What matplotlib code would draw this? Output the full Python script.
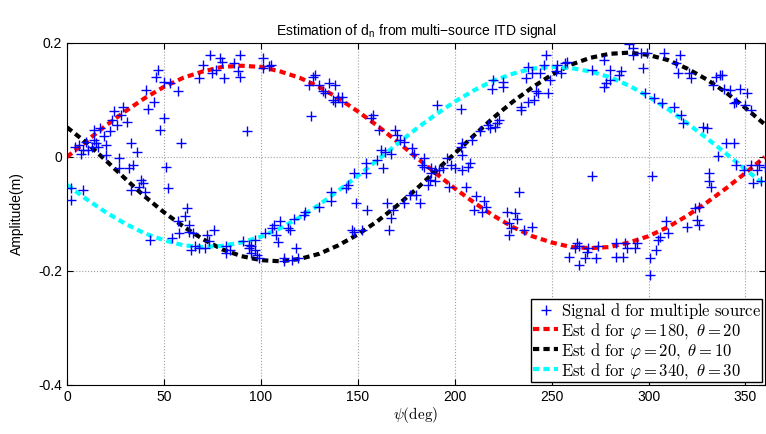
import matplotlib
matplotlib.use("Agg")
import matplotlib.pyplot as plt
import numpy as np

plt.rcParams['font.family'] = ['Liberation Sans', 'DejaVu Sans']
plt.rcParams['mathtext.fontset'] = 'cm'
plt.rcParams['axes.unicode_minus'] = False

psi_pts = [74, 79, 80, 89, 86, 70, 75, 81, 77, 68, 88, 89, 47, 46, 50, 53, 57, 41, 45, 42,
           29, 24, 28, 23, 26, 31, 50, 48, 93, 59, 14, 17, 22, 19, 14, 15, 20, 16, 10, 4,
           6, 7, 8, 11, 13, 20, 33, 36, 27, 27, 32, 34, 51, 52, 38, 39, 33, 37, 40, 2,
           8, 2, 62, 61, 57, 63, 63, 58, 65, 54, 43, 72, 76, 73, 66, 64, 68, 71, 82, 82,
           84, 91, 94, 94, 97,
           101, 101, 105, 104, 128, 127, 125, 130, 135, 138, 132, 133, 137, 140, 142, 142, 138, 126, 158, 157,
           161, 169, 170, 172, 174, 178, 179, 184, 184, 183, 188, 190, 194, 187, 190, 186, 197,
           191, 162, 164, 167, 160, 154, 154, 148, 163, 145, 144, 136, 136, 130, 123, 122, 117, 110, 107,
           106, 102, 97, 108, 109, 114, 115, 118, 95, 95, 98, 99, 112, 112, 116, 119,
           196, 192, 188, 177, 180, 182, 174, 165, 168, 167, 166, 155, 149, 147, 152, 148,
           290, 292, 292, 277, 271, 280, 286, 285, 280, 278, 277, 258, 257, 253, 252, 255, 247, 246, 238, 237,
           240, 244, 249, 242, 243, 248, 241, 238, 234, 234, 220, 219, 225, 225, 203, 223, 222, 221, 218, 217,
           213, 209, 204, 203, 204, 198, 200, 204, 207, 208,
           206, 211, 215, 216, 210, 214, 227, 231, 232, 228, 229, 228, 236, 240, 233, 271, 263, 264, 262, 259,
           264, 267, 268, 269, 274, 273, 283, 283, 287, 289, 288, 294, 293,
           296, 299, 308, 316, 314, 297, 315, 321, 322, 333, 335, 337, 338, 339, 342, 347, 351, 345, 344, 350, 353,
           298, 303, 307, 313, 317, 318, 328, 330, 340, 344, 336, 345, 349, 353, 357, 360, 354, 358, 356,
           331, 331, 332, 324, 326, 325, 326, 320, 309, 310, 306, 305, 304, 301, 301, 302]
d_pts = [0.179, 0.173, 0.167, 0.179, 0.164, 0.161, 0.147, 0.138, 0.153, 0.138, 0.150, 0.141, 0.153, 0.141, 0.132, 0.129, 0.115, 0.118, 0.097, 0.085,
         0.088, 0.080, 0.074, 0.065, 0.056, 0.062, 0.068, 0.047, 0.045, 0.024, 0.047, 0.050, 0.045, 0.036, 0.030, 0.024, 0.021, 0.018, 0.027, 0.018,
         0.021, 0.006, 0.012, 0.012, 0.018, 0.004, 0.024, 0.009, -0.002, -0.020, -0.020, -0.014, -0.017, -0.055, -0.040, -0.046, -0.058, -0.052, -0.061, -0.055,
         -0.058, -0.075, -0.090, -0.104, -0.113, -0.119, -0.131, -0.134, -0.134, -0.142, -0.145, -0.137, -0.128, -0.148, -0.157, -0.163, -0.160, -0.160, -0.157, -0.169,
         -0.163, -0.148, -0.154, -0.160, -0.163,
         0.173, 0.156, 0.161, 0.159, 0.144, 0.141, 0.126, 0.126, 0.129, 0.126, 0.115, 0.112, 0.100, 0.106, 0.106, 0.097, 0.097, 0.071, 0.074, 0.068,
         0.047, 0.047, 0.039, 0.030, 0.027, 0.015, 0.006, -0.002, -0.017, -0.014, -0.020, -0.023, -0.020, -0.040, -0.043, -0.049, -0.052,
         0.091, 0.012, 0.009, 0.006, -0.005, -0.011, -0.028, -0.028, -0.020, -0.049, -0.055, -0.061, -0.078, -0.087, -0.096, -0.102, -0.108, -0.113, -0.119,
         -0.125, -0.134, -0.145, -0.137, -0.149, -0.125, -0.128, -0.160, -0.157, -0.169, -0.172, -0.178, -0.178, -0.183, -0.181, -0.178,
         -0.002, -0.023, -0.028, -0.067, -0.067, -0.081, -0.081, -0.081, -0.093, -0.107, -0.128, -0.093, -0.081, -0.128, -0.128, -0.131,
         0.199, 0.191, 0.179, 0.170, 0.153, 0.153, 0.150, 0.144, 0.135, 0.129, 0.123, 0.167, 0.164, 0.161, 0.150, 0.147, 0.179, 0.161, 0.158, 0.138,
         0.147, 0.147, 0.135, 0.115, 0.112, 0.112, 0.100, 0.097, 0.088, 0.082, 0.135, 0.120, 0.132, 0.123, 0.085, 0.065, 0.059, 0.053, 0.050, 0.056,
         0.045, 0.030, 0.024, 0.018, 0.004, -0.014, -0.020, -0.023, -0.017, -0.011,
         -0.052, -0.069, -0.078, -0.087, -0.093, -0.096, -0.096, -0.099, -0.108, -0.116, -0.125, -0.137, -0.128, -0.122, -0.061, -0.034, -0.151, -0.157, -0.160, -0.175,
         -0.189, -0.178, -0.166, -0.160, -0.157, -0.178, -0.151, -0.175, -0.175, -0.160, -0.151, -0.151, -0.160,
         0.182, 0.182, 0.182, 0.179, 0.164, 0.156, 0.147, 0.147, 0.138, 0.126, 0.141, 0.144, 0.144, 0.120, 0.118, 0.120, 0.112, 0.097, 0.094, 0.091, 0.083,
         0.112, 0.103, 0.094, 0.088, 0.074, 0.059, 0.053, 0.050, 0.024, 0.024, 0.001, -0.014, -0.023, -0.014, -0.014, -0.017, -0.046, -0.043, -0.023,
         -0.028, -0.043, -0.052, -0.090, -0.087, -0.110, -0.119, -0.122, -0.113, -0.134, -0.140, -0.145, -0.163, -0.178, -0.207, -0.034]

# estimated curves, sampled every 10 deg
psi_est = list(range(0, 361, 10))
est_180_20 = [0.000, 0.028, 0.055, 0.080, 0.103, 0.123, 0.139, 0.150, 0.158, 0.160,
              0.158, 0.150, 0.139, 0.123, 0.103, 0.080, 0.055, 0.028, 0.000, -0.028,
              -0.055, -0.080, -0.103, -0.123, -0.139, -0.150, -0.158, -0.160, -0.158, -0.150,
              -0.139, -0.123, -0.103, -0.080, -0.055, -0.028, 0.000]
est_20_10 = [0.052, 0.025, -0.006, -0.038, -0.069, -0.097, -0.122, -0.144, -0.162, -0.174,
             -0.181, -0.183, -0.179, -0.170, -0.155, -0.136, -0.113, -0.086, -0.057, -0.025,
             0.006, 0.038, 0.069, 0.097, 0.122, 0.144, 0.162, 0.174, 0.181, 0.183,
             0.179, 0.170, 0.155, 0.136, 0.113, 0.086, 0.057]
est_340_30 = [-0.049, -0.074, -0.097, -0.117, -0.134, -0.146, -0.155, -0.158, -0.156, -0.150,
              -0.140, -0.125, -0.106, -0.084, -0.059, -0.033, -0.006, 0.022, 0.049, 0.074,
              0.097, 0.117, 0.134, 0.146, 0.155, 0.158, 0.156, 0.150, 0.140, 0.125,
              0.106, 0.084, 0.059, 0.033, 0.006, -0.022, -0.049]

x_ticks = [0, 50, 100, 150, 200, 250, 300, 350]
y_ticks = [0.2, 0, -0.2, -0.4]
y_tick_labels = ['0.2', '0', '-0.2', '-0.4']

fig = plt.figure(figsize=(7.66, 4.34), dpi=100)
ax = fig.add_axes([0.0875, 0.113, 0.911, 0.788])

ax.plot(psi_pts, d_pts, '+', color='blue', markersize=7, mew=1.0, linestyle='none',
        label=r'$\mathrm{Signal\ d\ for\ multiple\ source}$', zorder=3)
ax.plot(psi_est, est_180_20, color='red', lw=3, dashes=(1.5, 1.0),
        label=r'$\mathrm{Est\ d\ for\ }\varphi\mathrm{=180,\ }\theta\mathrm{=20}$', zorder=2)
ax.plot(psi_est, est_20_10, color='black', lw=3, dashes=(1.5, 1.0),
        label=r'$\mathrm{Est\ d\ for\ }\varphi\mathrm{=20,\ }\theta\mathrm{=10}$', zorder=2)
ax.plot(psi_est, est_340_30, color='cyan', lw=3, dashes=(1.5, 1.0),
        label=r'$\mathrm{Est\ d\ for\ }\varphi\mathrm{=340,\ }\theta\mathrm{=30}$', zorder=2)

ax.set_xlim(0, 360)
ax.set_ylim(-0.4, 0.2)
ax.set_xticks(x_ticks)
ax.set_yticks(y_ticks)
ax.set_yticklabels(y_tick_labels)
ax.tick_params(direction='in', top=True, right=True, labelsize=10, length=4)
ax.grid(True, linestyle=':', color='#a0a0a0', linewidth=0.8)

ax.set_title('Estimation of d$_\\mathregular{n}$ from multi\u2212source ITD signal', fontsize=10, pad=6)
ax.set_xlabel(r'$\psi\mathrm{(deg)}$', fontsize=11, labelpad=1)
ax.set_ylabel('Amplitude(m)', fontsize=10, labelpad=10)

leg = ax.legend(loc='lower right', fontsize=12, handlelength=1.5, handletextpad=0.15,
                borderpad=0.1, labelspacing=0.0, borderaxespad=0.15,
                fancybox=False, framealpha=1, edgecolor='black')
leg.get_frame().set_linewidth(1.0)

fig.savefig('out.png', dpi=100)
